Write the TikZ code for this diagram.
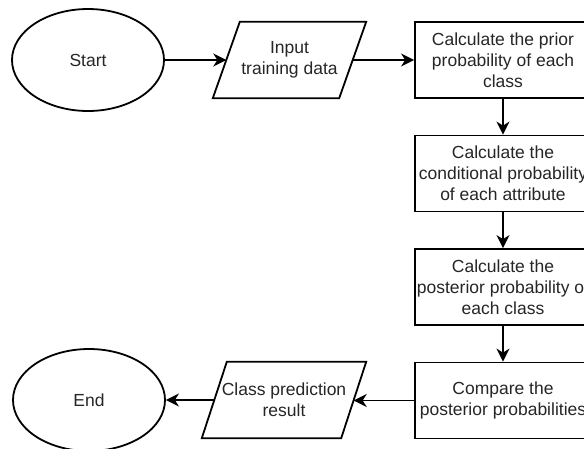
\documentclass[tikz,border=0pt]{standalone}
\usepackage{fontspec}
\setmainfont{Liberation Sans}
\usetikzlibrary{shapes.geometric,arrows.meta}
\begin{document}
\begin{tikzpicture}[x=1pt,y=-1pt,
  every node/.style={font=\fontsize{17.5}{21}\selectfont, text=black!85, align=center, inner sep=0pt},
  term/.style={ellipse, draw=black, line width=1.8pt, minimum width=152pt, minimum height=102pt},
  procbox/.style={rectangle, draw=black, line width=1.8pt, minimum width=176pt, minimum height=76pt},
  iobox/.style={rectangle, minimum height=76pt},
  ioshape/.style={draw=black, line width=1.8pt, line join=miter},
  conn/.style={draw=black, line width=1.8pt, -{Stealth[length=13pt,width=13pt,inset=4pt]}}
]
\clip (0,0) rectangle (584,448);
\fill[white] (0,0) rectangle (584,448);

\node[term] (start) at (88,60) {Start};
\node[iobox, minimum width=126pt] (inp) at (289.5,60) {Input\\training data};
\draw[ioshape] ([xshift=13.5pt]inp.north west) -- ([xshift=13.5pt]inp.north east)
  -- ([xshift=-13.5pt]inp.south east) -- ([xshift=-13.5pt]inp.south west) -- cycle;
\node[procbox] (prior) at (503,60) {Calculate the prior\\probability of each\\class};
\node[procbox] (cond) at (503,173.5) {Calculate the\\conditional probability\\of each attribute};
\node[procbox] (post) at (503,287) {Calculate the\\posterior probability of\\each class};
\node[procbox] (comp) at (503,400.5) {Compare the\\posterior probabilities};
\node[iobox, minimum width=139pt] (cls) at (284,400) {Class prediction\\result};
\draw[ioshape] ([xshift=12.5pt]cls.north west) -- ([xshift=12.5pt]cls.north east)
  -- ([xshift=-12.5pt]cls.south east) -- ([xshift=-12.5pt]cls.south west) -- cycle;
\node[term] (end) at (89,400) {End};

\draw[conn] (start.east) -- (inp.west);
\draw[conn] (inp.east) -- (prior.west);
\draw[conn] (prior.south) -- (cond.north);
\draw[conn] (cond.south) -- (post.north);
\draw[conn] (post.south) -- (comp.north);
\draw[conn] (comp.west) -- (comp.west -| cls.east);
\draw[conn] (cls.west) -- (cls.west -| end.east);
\end{tikzpicture}
\end{document}
